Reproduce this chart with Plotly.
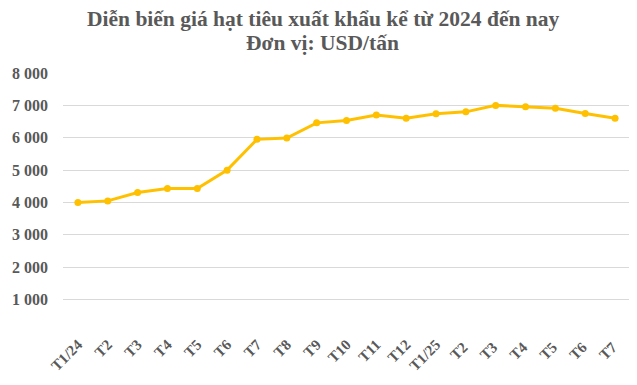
import plotly.graph_objects as go

months = ["T1/24", "T2", "T3", "T4", "T5", "T6", "T7", "T8", "T9", "T10", "T11", "T12",
          "T1/25", "T2 ", "T3 ", "T4 ", "T5 ", "T6 ", "T7 "]
prices = [4000, 4050, 4310, 4430, 4430, 5000, 5950, 5990, 6460, 6530, 6700, 6600,
          6740, 6800, 7000, 6960, 6910, 6750, 6600]
y_ticks = [0, 1000, 2000, 3000, 4000, 5000, 6000, 7000, 8000]
y_labels = ["", "1 000", "2 000", "3 000", "4 000", "5 000", "6 000", "7 000", "8 000"]
title_lines = ["Diễn biến giá hạt tiêu xuất khẩu kể từ 2024 đến nay", "Đơn vị: USD/tấn"]

font_family = "Liberation Serif, Times New Roman, serif"
text_color = "#595959"

# page body has an 8px default margin -> figure sized to fit the window
W, H = 629, 377
ML, MR, MT, MB = 55, 7, 65, 53
H_PLOT = H - MT - MB
W_PLOT = W - ML - MR

fig = go.Figure()
fig.add_trace(go.Scatter(
    x=months, y=prices, mode="lines+markers",
    line=dict(color="#FFC000", width=3),
    marker=dict(color="#FFC000", size=7),
    hoverinfo="x+y",
))

for line, ypx in zip(title_lines, [11, 35]):
    fig.add_annotation(
        text=f"<b>{line}</b>", xref="paper", yref="paper",
        x=(314.5 - ML) / W_PLOT, y=(H - MB - ypx) / H_PLOT,
        xanchor="center", yanchor="middle",
        showarrow=False,
        font=dict(family=font_family, size=21.5, color=text_color),
    )

fig.update_layout(
    width=W, height=H,
    margin=dict(l=ML, r=MR, t=MT, b=MB),
    paper_bgcolor="white", plot_bgcolor="white",
    showlegend=False,
    font=dict(family=font_family, color=text_color),
)
fig.update_xaxes(
    type="category", range=[-0.5, len(months) - 0.5],
    tickangle=-45, showgrid=False, showline=False,
    tickfont=dict(family=font_family, size=15, color=text_color, weight="bold"),
    ticks="", automargin=False,
)
fig.update_yaxes(
    range=[0, 8000], tickvals=y_ticks, ticktext=y_labels,
    showgrid=True, gridcolor="#D9D9D9", gridwidth=1, zeroline=False,
    tickfont=dict(family=font_family, size=16, color=text_color, weight="bold"),
    ticklabelstandoff=14, automargin=False,
)

fig.write_html("out.html")
